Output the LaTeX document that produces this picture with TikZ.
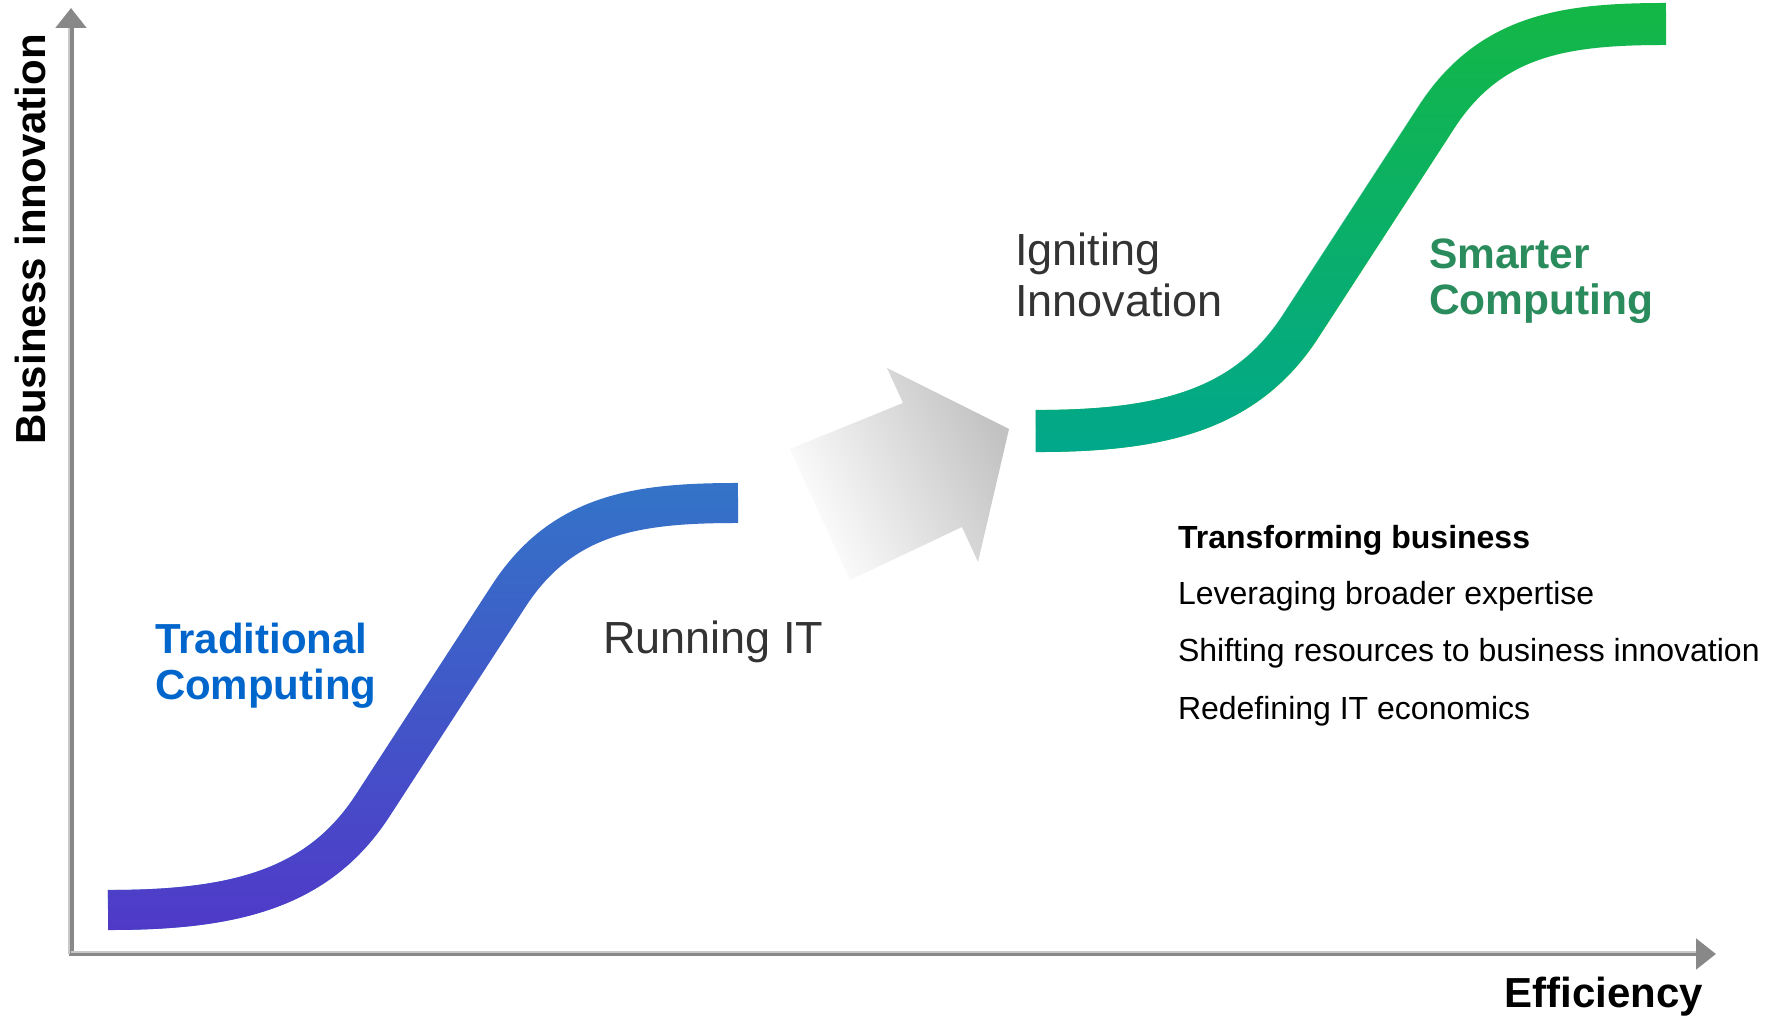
\documentclass[tikz,border=0pt]{standalone}
\usepackage{fontspec}
\setmainfont{Liberation Sans}
\usetikzlibrary{arrows.meta,fadings}

\definecolor{axisColor}{RGB}{136,136,136}
\definecolor{axisLight}{RGB}{200,200,200}
\definecolor{blueLow}{RGB}{80,58,200}
\definecolor{blueHigh}{RGB}{52,116,200}
\definecolor{greenLow}{RGB}{2,168,140}
\definecolor{greenHigh}{RGB}{20,184,70}
\definecolor{tradBlue}{RGB}{0,102,204}
\definecolor{smartGreen}{RGB}{42,140,92}
\definecolor{textGray}{RGB}{51,51,51}

% one S shaped step, drawn from its lower left end
\newcommand{\sbend}{(0,0) .. controls (125,0) and (210,20) .. (265,105) -- (400,313) .. controls (454,397) and (530,407) .. (630,407)}

\begin{document}
\begin{tikzpicture}[x=1pt,y=1pt,
  lbl/.style={anchor=base west,inner sep=0pt,outer sep=0pt},
  axislbl/.style={lbl,font=\bfseries\fontsize{42}{46}\selectfont},
  phase/.style={lbl,text=textGray,font=\fontsize{45}{51}\selectfont},
  item/.style={lbl,text=black,font=\fontsize{32}{38}\selectfont},
  axis/.style={draw=axisColor,line width=5pt,-{Triangle[length=20pt,width=30pt]}}]
\path[use as bounding box,fill=white] (0,0) rectangle (1775,1016);

% axes
\coordinate (origin) at (71,62);
\coordinate (ytip) at (71,1008);
\coordinate (xtip) at (1716,62);
\path[axis] ([yshift=-2.5pt]origin) -- (ytip);
\path[axis] ([xshift=-2.5pt]origin) -- (xtip);
\path[draw=axisLight,line width=1.2pt] ([xshift=-2pt]origin) -- ([xshift=-2pt,yshift=-20pt]ytip);
\path[draw=axisLight,line width=1.2pt] ([yshift=2pt]origin) -- ([xshift=-20pt,yshift=2pt]xtip);

\node[axislbl,rotate=90] (yname) at (45,571) {Business innovation};
\node[axislbl,anchor=base east] (xname) at (1703,8) {Efficiency};

% first step
\begin{scope}[shift={(108,106)}]
\path[draw=blueHigh,line width=40pt] \sbend;
\path[draw=blueLow,line width=40pt,path fading=north] \sbend;
\end{scope}

% second step
\begin{scope}[shift={(1036,585)}]
\path[draw=greenHigh,line width=42pt] \sbend;
\path[draw=greenLow,line width=42pt,path fading=north] \sbend;
\end{scope}

% the leap between them
\path[left color=white,right color=black!24,shading angle=115] (790,567) -- (903,613) -- (887,648) -- (1009,587) --
	(978,454) -- (962,489) -- (850,436) -- cycle;

\node[lbl,text=tradBlue,font=\bfseries\fontsize{42}{46}\selectfont] (tradA) at (155,362) {Traditional};
\node[lbl,text=tradBlue,font=\bfseries\fontsize{42}{46}\selectfont] (tradB) at (155,316) {Computing};

\node[phase] (running) at (603,362) {Running IT};

\node[phase] (ignA) at (1015,750) {Igniting};
\node[phase] (ignB) at (1015,699) {Innovation};

\node[lbl,text=smartGreen,font=\bfseries\fontsize{42.5}{46}\selectfont] (smartA) at (1429,747) {Smarter};
\node[lbl,text=smartGreen,font=\bfseries\fontsize{42.5}{46}\selectfont] (smartB) at (1429,701) {Computing};

\node[item,font=\bfseries\fontsize{32}{38}\selectfont] (trans) at (1178,467) {Transforming business};
\node[item] (lever) at (1178,411) {Leveraging broader expertise};
\node[item] (shift) at (1178,354) {Shifting resources to business innovation};
\node[item] (redef) at (1178,296) {Redefining IT economics};
\end{tikzpicture}
\end{document}
